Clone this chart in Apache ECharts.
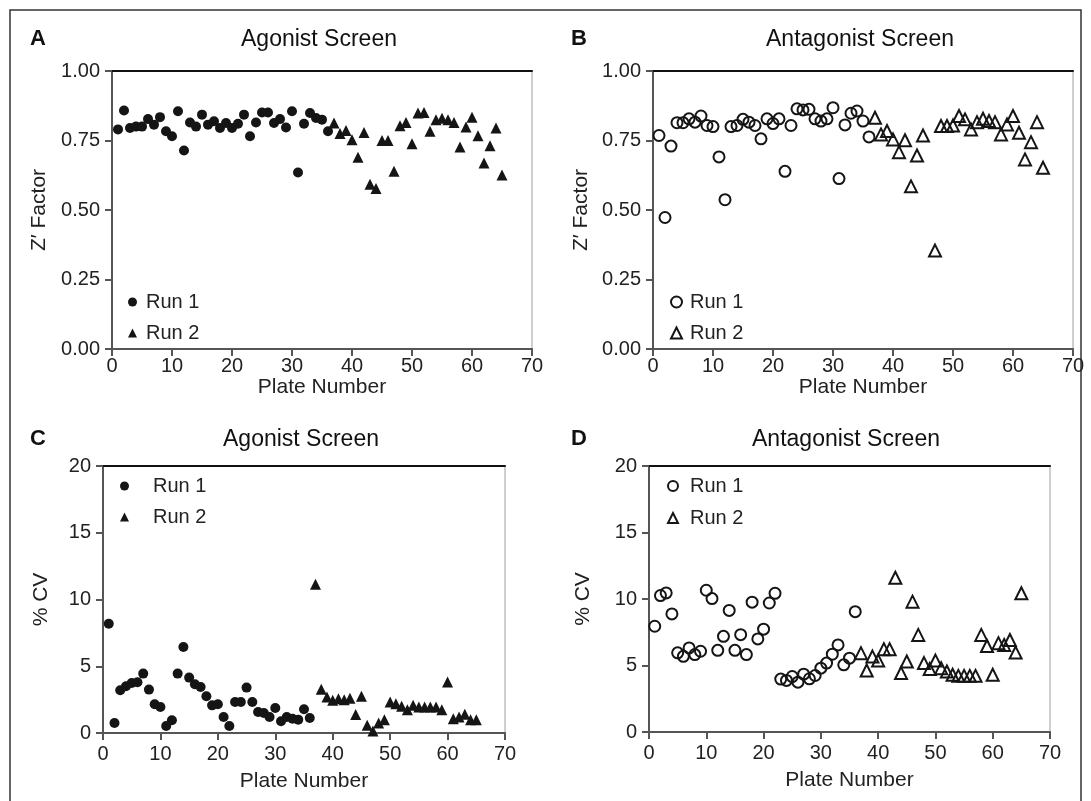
<!DOCTYPE html>
<html>
<head>
<meta charset="utf-8">
<title>Z' factor and %CV by plate</title>
<script src="https://cdn.jsdelivr.net/npm/echarts@6/dist/echarts.min.js"></script>
<style>
  html, body { margin: 0; padding: 0; background: #fff; }
  #chart { width: 1091px; height: 801px; }
</style>
</head>
<body>
<div id="chart"></div>
<script>
// Z' factor per plate (run 1 = plates 1-36, run 2 = plates 37-65)
const zAgonistRun1 = [0.79, 0.858, 0.795, 0.80, 0.80, 0.827, 0.807, 0.834, 0.783, 0.765, 0.855, 0.714,
  0.815, 0.80, 0.843, 0.807, 0.819, 0.795, 0.813, 0.795, 0.81, 0.843, 0.765, 0.815, 0.851, 0.851,
  0.813, 0.827, 0.797, 0.855, 0.635, 0.81, 0.849, 0.831, 0.825, 0.783]
const zAgonistRun2 = [0.813, 0.775, 0.786, 0.753, 0.69, 0.779, 0.593, 0.577, 0.75, 0.75, 0.639, 0.803,
  0.815, 0.738, 0.849, 0.851, 0.783, 0.825, 0.83, 0.825, 0.815, 0.727, 0.799, 0.834, 0.767, 0.669,
  0.731, 0.795, 0.626]
const zAntagonistRun1 = [0.768, 0.473, 0.73, 0.814, 0.814, 0.828, 0.816, 0.838, 0.804, 0.80, 0.691, 0.537,
  0.80, 0.804, 0.826, 0.816, 0.804, 0.756, 0.828, 0.811, 0.828, 0.639, 0.804, 0.864, 0.86, 0.862,
  0.828, 0.82, 0.828, 0.868, 0.613, 0.806, 0.848, 0.856, 0.82, 0.763]
const zAntagonistRun2 = [0.832, 0.772, 0.784, 0.754, 0.708, 0.751, 0.585, 0.696, 0.768, null, 0.354, 0.802,
  0.802, 0.804, 0.838, 0.826, 0.79, 0.816, 0.828, 0.82, 0.816, 0.772, 0.808, 0.838, 0.778, 0.682,
  0.744, 0.816, 0.652]

// %CV per plate
const cvAgonistRun1 = [8.19, 0.75, 3.2, 3.5, 3.75, 3.8, 4.45, 3.25, 2.15, 1.95, 0.53, 0.95,
  4.45, 6.44, 4.15, 3.65, 3.45, 2.75, 2.07, 2.15, 1.2, 0.53, 2.32, 2.32, 3.4, 2.32,
  1.57, 1.5, 1.2, 1.87, 0.88, 1.2, 1.07, 1.0, 1.78, 1.12]
const cvAgonistRun2 = [11.14, 3.27, 2.7, 2.45, 2.57, 2.5, 2.6, 1.38, 2.75, 0.58, 0.15, 0.75,
  1.0, 2.32, 2.2, 2.0, 1.75, 2.07, 1.95, 1.95, 1.95, 1.95, 1.75, 3.82, 1.07, 1.2,
  1.4, 1.0, 1.0]
const cvAntagonistRun1 = [7.95, 10.26, 10.46, 8.88, 5.95, 5.69, 6.32, 5.82, 6.07, 10.66, 10.03, 6.14,
  7.19, 9.14, 6.14, 7.32, 5.82, 9.76, 7.0, 7.73, 9.7, 10.43, 3.98, 3.88, 4.17, 3.75,
  4.35, 4.0, 4.25, 4.8, 5.18, 5.85, 6.55, 5.05, 5.55, 9.05]
const cvAntagonistRun2 = [5.93, 4.62, 5.67, 5.37, 6.23, 6.23, 11.6, 4.43, 5.3, 9.8, 7.3, 5.18,
  4.73, 5.37, 4.8, 4.55, 4.3, 4.22, 4.22, 4.22, 4.22, 7.3, 6.47, 4.3, 6.68, 6.55,
  6.92, 5.97, 10.43]

const run1FirstPlate = 1
const run2FirstPlate = 37
const runNames = ['Run 1', 'Run 2']

const FONT = '"Liberation Sans", Arial, Helvetica, sans-serif'
const INK = '#151515'

// plate index -> [plate, value], gaps skipped
function toPoints(values, firstPlate) {
  return values
    .map((v, i) => (v == null ? null : [firstPlate + i, v]))
    .filter(p => p !== null)
}

const panels = [
  {
    letter: 'A', title: 'Agonist Screen', hollow: false,
    grid: { left: 112, top: 71, width: 420, height: 278 },
    y: { max: 1, interval: 0.25, name: 'Z\u2032 Factor', gap: 62, digits: 2 },
    xLabelMargin: 7, xNameGap: 19,
    // icon box left/top, icon size, extra gap before text
    legend: { left: 128, top: 292, icon: 9, textGap: 4, itemGap: 11 },
    titleX: 319, letterX: 30, rowTop: 28,
    runs: [toPoints(zAgonistRun1, run1FirstPlate), toPoints(zAgonistRun2, run2FirstPlate)]
  },
  {
    letter: 'B', title: 'Antagonist Screen', hollow: true,
    grid: { left: 653, top: 71, width: 420, height: 278 },
    y: { max: 1, interval: 0.25, name: 'Z\u2032 Factor', gap: 61, digits: 2 },
    xLabelMargin: 7, xNameGap: 19,
    legend: { left: 670, top: 292, icon: 11, textGap: 3, itemGap: 11 },
    titleX: 860, letterX: 571, rowTop: 28,
    runs: [toPoints(zAntagonistRun1, run1FirstPlate), toPoints(zAntagonistRun2, run2FirstPlate)]
  },
  {
    letter: 'C', title: 'Agonist Screen', hollow: false,
    grid: { left: 103, top: 466, width: 402, height: 267 },
    y: { max: 20, interval: 5, name: '% CV', gap: 51, digits: 0 },
    xLabelMargin: 11, xNameGap: 38,
    legend: { left: 120, top: 476, icon: 9, textGap: 19, itemGap: 11 },
    titleX: 301, letterX: 30, rowTop: 428,
    runs: [toPoints(cvAgonistRun1, run1FirstPlate), toPoints(cvAgonistRun2, run2FirstPlate)]
  },
  {
    letter: 'D', title: 'Antagonist Screen', hollow: true,
    grid: { left: 649, top: 466, width: 401, height: 266 },
    y: { max: 20, interval: 5, name: '% CV', gap: 55, digits: 0 },
    xLabelMargin: 11, xNameGap: 38,
    legend: { left: 667, top: 476, icon: 10, textGap: 7, itemGap: 12 },
    titleX: 846, letterX: 571, rowTop: 428,
    runs: [toPoints(cvAntagonistRun1, run1FirstPlate), toPoints(cvAntagonistRun2, run2FirstPlate)]
  }
]

const labelStyle = { color: '#222', fontFamily: FONT, fontSize: 20 }

const option = {
  animation: false,
  backgroundColor: '#fff',
  graphic: [{
    type: 'rect',
    shape: { x: 10, y: 10, width: 1071, height: 830 },
    style: { fill: 'none', stroke: '#333', lineWidth: 1.5 },
    silent: true
  }],
  title: [],
  legend: [],
  grid: [],
  xAxis: [],
  yAxis: [],
  series: []
}

panels.forEach((p, k) => {
  option.grid.push(Object.assign({ containLabel: false }, p.grid))

  // panel letter + heading
  option.title.push({
    text: p.letter, left: p.letterX, top: p.rowTop, padding: 0,
    textStyle: { fontFamily: FONT, fontSize: 22, fontWeight: 'bold', color: '#111' }
  })
  option.title.push({
    text: p.title, left: p.titleX, top: p.rowTop, textAlign: 'center', padding: 0,
    textStyle: { fontFamily: FONT, fontSize: 23, fontWeight: 'normal', color: '#111' }
  })

  // bottom x axis (plate number)
  option.xAxis.push({
    gridIndex: k, type: 'value', position: 'bottom',
    min: 0, max: 70, interval: 10,
    name: 'Plate Number', nameLocation: 'middle', nameGap: p.xNameGap,
    nameTextStyle: { color: '#222', fontFamily: FONT, fontSize: 21 },
    axisLine: { onZero: false, lineStyle: { color: '#555', width: 2 } },
    axisTick: { length: 7, lineStyle: { color: '#555', width: 2 } },
    axisLabel: Object.assign({ margin: p.xLabelMargin }, labelStyle),
    splitLine: { show: false }
  })
  // top frame line
  option.xAxis.push({
    gridIndex: k, type: 'value', position: 'top',
    min: 0, max: 70,
    axisLine: { onZero: false, lineStyle: { color: '#111', width: 2 } },
    axisTick: { show: false }, axisLabel: { show: false }, splitLine: { show: false }
  })

  // left y axis
  option.yAxis.push({
    gridIndex: k, type: 'value', position: 'left',
    min: 0, max: p.y.max, interval: p.y.interval,
    name: p.y.name, nameLocation: 'middle', nameGap: p.y.gap, nameRotate: 90,
    nameTextStyle: { color: '#222', fontFamily: FONT, fontSize: 21 },
    axisLine: { show: true, onZero: false, lineStyle: { color: '#555', width: 2 } },
    axisTick: { show: true, length: 7, lineStyle: { color: '#555', width: 2 } },
    axisLabel: Object.assign({
      margin: 12,
      formatter: v => v.toFixed(p.y.digits)
    }, labelStyle),
    splitLine: { show: false }
  })
  // right frame line
  option.yAxis.push({
    gridIndex: k, type: 'value', position: 'right',
    min: 0, max: p.y.max,
    axisLine: { show: true, onZero: false, lineStyle: { color: '#cfcfcf', width: 2 } },
    axisTick: { show: false }, axisLabel: { show: false }, splitLine: { show: false }
  })

  const markStyle = p.hollow
    ? { color: 'rgba(255,255,255,0)', borderColor: INK, borderWidth: 2, opacity: 1 }
    : { color: INK, opacity: 1 }
  const symbols = ['circle', 'triangle']
  const sizes = p.hollow ? [11, 12] : [10, 11]
  const legendNames = []

  p.runs.forEach((pts, r) => {
    const name = p.letter + '|' + runNames[r]
    legendNames.push(name)
    option.series.push({
      name: name,
      type: 'scatter',
      xAxisIndex: 2 * k,
      yAxisIndex: 2 * k,
      symbol: symbols[r],
      symbolSize: sizes[r],
      itemStyle: markStyle,
      emphasis: { disabled: true },
      data: pts
    })
  })

  option.legend.push({
    orient: 'vertical',
    left: p.legend.left, top: p.legend.top,
    padding: 0,
    itemWidth: p.legend.icon, itemHeight: p.legend.icon,
    itemGap: p.legend.itemGap,
    selectedMode: false,
    data: legendNames,
    formatter: n => n.split('|')[1],
    textStyle: {
      color: '#222', fontFamily: FONT, fontSize: 20, lineHeight: 20,
      padding: [0, 0, 0, p.legend.textGap]
    }
  })
})

const chart = echarts.init(document.getElementById('chart'), null, { renderer: 'canvas' })
chart.setOption(option)
</script>
</body>
</html>
